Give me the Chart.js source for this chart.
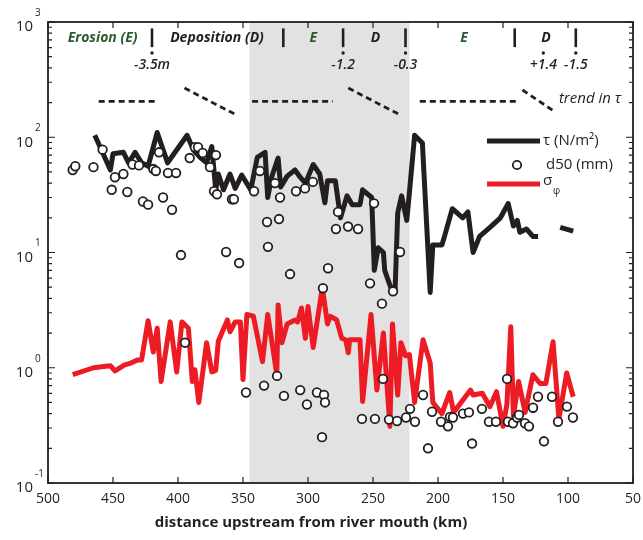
<!DOCTYPE html>
<html>
<head>
<meta charset="utf-8">
<script src="https://cdn.jsdelivr.net/npm/chart.js@4/dist/chart.umd.min.js"></script>
<style>
  html, body { margin: 0; padding: 0; background: #fff; }
  #wrap { width: 643px; height: 540px; }
</style>
</head>
<body>
<div id="wrap"><canvas id="chart"></canvas></div>
<script>
// tau (N/m2) along the river, km upstream of mouth
const tauKm  = [464, 452, 450, 442, 438, 433, 428, 423, 416, 408, 393, 388, 383, 378, 374, 371, 369, 365, 360, 356,
                351, 346, 344, 339, 333, 331, 328, 323, 321, 316, 310, 306, 302, 296, 291, 287, 285, 279, 275, 270,
                266, 260, 258, 251, 249, 246, 242, 241, 235, 233, 231, 228, 224, 222, 218, 212, 206, 204, 197, 195,
                189, 181, 177, 173, 168, 160, 152, 146, 142, 139, 137, 132, 127, 123, 115, 106, 96];
const tauVal = [104, 52, 72, 74, 60, 74, 60, 56, 110, 60, 104, 77, 67, 60, 83, 35, 48, 35, 48, 36,
                47, 38, 35, 67, 74, 30, 45, 66, 37, 46, 52, 45, 40, 58, 48, 27, 42, 42, 20, 31,
                26, 26, 35, 30, 7, 11, 10, 7, 4.5, 4.7, 22, 31, 19, 33, 104, 89, 4.5, 11.6, 11.6, 13.8,
                24, 20, 22.5, 10, 13.8, 16.5, 20, 26.6, 17, 19, 15, 16, 13.8, 13.8, null, 16.5, 15.3];

// d50 (mm) samples
const d50Km  = [481, 479, 465, 458, 451, 448.5, 442, 439, 435, 430, 427, 423, 419, 417, 414.6, 411.5, 407.7, 404.6, 401.5, 397.7,
                394.6, 391, 387, 384.6, 381, 375.4, 370.8, 372.3, 370, 363, 358.5, 357, 353, 347.7, 341.5, 337, 331.5, 330.8, 325.4, 322.3,
                321.5, 313.8, 309.2, 302.3, 296.2, 288.5, 284.6, 278.5, 276.9, 269.2, 261.5, 249.2, 252.3, 243.1, 234.6, 229.2, 333.8, 323.8, 318.5, 306,
                300.8, 293.1, 287.7, 286.9, 289.2, 258.5, 248.5, 242.3, 237.7, 231.5, 224.6, 221.5, 217.7, 211.5, 207.7, 204.6, 197.7, 192.3, 190.8, 188.5,
                180.8, 176.2, 173.8, 166.2, 160.8, 155.4, 146.9, 146.2, 142.3, 139.2, 137.7, 133.1, 130, 126.9, 123.1, 118.5, 112.3, 107.7, 100.8, 96.2];
const d50Val = [52, 56, 55, 78, 35, 45, 48, 33.5, 58, 57, 27.7, 26, 53, 51, 74, 30, 49, 23.5, 49, 9.5,
                1.65, 66, 82, 82, 73, 55, 70, 34, 32, 10.1, 29, 29, 8.1, 0.61, 34, 51, 18.4, 11.2, 40, 19.5,
                30, 6.5, 34, 36, 41, 4.9, 7.3, 16, 22.5, 16.8, 16, 26.7, 5.4, 3.6, 4.6, 10.1, 0.70, 0.85, 0.57, 0.64,
                0.48, 0.61, 0.58, 0.50, 0.25, 0.36, 0.36, 0.80, 0.355, 0.345, 0.37, 0.44, 0.34, 0.58, 0.20, 0.415, 0.34, 0.31, 0.375, 0.37,
                0.40, 0.41, 0.22, 0.44, 0.34, 0.34, 0.80, 0.34, 0.33, 0.37, 0.39, 0.33, 0.31, 0.45, 0.56, 0.23, 0.56, 0.34, 0.46, 0.37];

// sorting sigma_phi
const sigKm  = [481, 465, 452, 448.5, 441, 437, 431, 428, 423, 419, 416, 413, 406, 401, 397, 392, 389, 387, 384, 378,
                374, 371, 369, 362, 360, 356, 352, 350, 347, 342, 335, 331, 328, 324, 323, 320, 316, 310, 308, 305,
                302, 300, 296, 289, 285, 283, 278, 274, 271, 269, 268, 260, 258, 251.5, 247, 242, 237, 235, 231, 228.5,
                225, 222, 218, 211.5, 206, 204, 197, 191, 188, 175, 173, 166, 160, 155, 150, 147, 144, 142, 138, 133,
                127, 121.5, 117, 111.5, 107, 101, 96];
const sigVal = [0.87, 1.0, 1.04, 0.94, 1.06, 1.09, 1.17, 1.17, 2.56, 1.37, 2.2, 0.76, 2.5, 0.92, 2.5, 2.2, 0.76, 0.96, 0.5, 1.65,
                0.92, 0.95, 1.7, 2.6, 2.05, 2.5, 2.5, 0.79, 2.9, 2.8, 1.13, 2.9, 1.75, 0.87, 3.5, 1.65, 2.4, 2.6, 2.5, 3.3,
                1.8, 3.4, 1.5, 4.95, 2.4, 2.8, 2.6, 1.8, 1.75, 1.35, 1.75, 1.75, 0.51, 2.9, 0.64, 2.0, 0.31, 2.4, 0.58, 1.65,
                1.27, 1.3, 0.5, 1.75, 1.1, 0.5, 0.4, 0.61, 0.41, 0.64, 0.58, 0.6, 0.46, 0.62, 0.31, 0.48, 2.27, 0.38, 0.76, 0.41,
                0.87, 0.73, 0.73, 1.68, 0.36, 0.9, 0.56];

// dashed "trend in tau" sketch (null = break)
const trendKm  = [461, 416, 416, 395, 355, 355, 343, 281, 281, 269, 229, 229, 214, 139, 139, 135, 112];
const trendVal = [205, 205, null, 267, 156, null, 205, 205, null, 267, 156, null, 205, 205, null, 257, 172];

// axes
const xTicks   = [500, 450, 400, 350, 300, 250, 200, 150, 100, 50];
const yDecades = [0.1, 1, 10, 100, 1000];
const yExp     = ['-1', '0', '1', '2', '3'];

// shaded reach and zone annotations
const shadeKm    = [345, 222];
const zoneKm     = [458, 370, 296, 248, 180, 117];
const zoneText   = ['Erosion (E)', 'Deposition (D)', 'E', 'D', 'E', 'D'];
const boundaryKm = [420, 319, 273, 225, 141, 94];
const elevKm     = [420, 273, 225, 119, 94];
const elevText   = ['-3.5m', '-1.2', '-0.3', '+1.4', '-1.5'];

const FONT = '"Open Sans", "DejaVu Sans", sans-serif';
const RED = '#ed1c24';
const INK = '#231f20';
const GREEN = '#2b5a2f';

const pts = (xs, ys) => xs.map((x, i) => ({ x: x, y: ys[i] }));

// everything that is not a series: shade, frame, ticks, labels, notes, legend
const decor = {
  id: 'decor',
  beforeDatasetsDraw(chart) {
    const { ctx, chartArea: a, scales: { x } } = chart;
    const x1 = x.getPixelForValue(shadeKm[0]);
    const x2 = x.getPixelForValue(shadeKm[1]);
    ctx.save();
    ctx.fillStyle = '#e2e2e2';
    ctx.fillRect(x1, a.top, x2 - x1, a.bottom - a.top);
    ctx.restore();
  },
  afterDatasetsDraw(chart) {
    const { ctx, chartArea: a, scales: { x, y } } = chart;
    ctx.save();
    ctx.strokeStyle = INK;
    ctx.fillStyle = INK;

    // frame
    ctx.lineWidth = 1.8;
    ctx.strokeRect(a.left, a.top, a.right - a.left, a.bottom - a.top);

    // x ticks (inward, bottom and top) + labels
    ctx.lineWidth = 1.2;
    ctx.font = '14px ' + FONT;
    ctx.textAlign = 'center';
    ctx.textBaseline = 'middle';
    xTicks.forEach(v => {
      const px = x.getPixelForValue(v);
      ctx.beginPath();
      ctx.moveTo(px, a.bottom); ctx.lineTo(px, a.bottom - 6);
      ctx.moveTo(px, a.top); ctx.lineTo(px, a.top + 6);
      ctx.stroke();
      ctx.fillText(String(v), px, a.bottom + 16);
    });

    // y ticks (log, inward on both sides)
    yDecades.forEach((d, i) => {
      const py = y.getPixelForValue(d);
      ctx.beginPath();
      ctx.moveTo(a.left, py); ctx.lineTo(a.left + 7, py);
      ctx.moveTo(a.right, py); ctx.lineTo(a.right - 7, py);
      ctx.stroke();
      if (i < yDecades.length - 1) {
        for (let m = 2; m <= 9; m++) {
          const pm = y.getPixelForValue(d * m);
          ctx.beginPath();
          ctx.moveTo(a.left, pm); ctx.lineTo(a.left + 4, pm);
          ctx.moveTo(a.right, pm); ctx.lineTo(a.right - 4, pm);
          ctx.stroke();
        }
      }
      ctx.font = '15px ' + FONT;
      ctx.textAlign = 'right';
      ctx.fillText('10', a.left - 15, py + 5);
      ctx.font = '10px ' + FONT;
      ctx.textAlign = 'left';
      ctx.fillText(yExp[i], a.left - 13, py - 9);
    });

    // x title
    ctx.font = 'bold 15px ' + FONT;
    ctx.textAlign = 'center';
    ctx.fillText('distance upstream from river mouth (km)', 311, a.bottom + 40);

    // zone names
    ctx.font = 'italic bold 14px ' + FONT;
    zoneText.forEach((t, i) => {
      ctx.fillStyle = zoneText[i].startsWith('E') ? GREEN : INK;
      ctx.fillText(t, x.getPixelForValue(zoneKm[i]), y.getPixelForValue(726));
    });
    ctx.fillStyle = INK;

    // zone boundaries
    ctx.lineWidth = 2.6;
    boundaryKm.forEach(k => {
      const px = x.getPixelForValue(k);
      ctx.beginPath();
      ctx.moveTo(px, y.getPixelForValue(880));
      ctx.lineTo(px, y.getPixelForValue(605));
      ctx.stroke();
    });

    // bed elevation change marks
    ctx.font = 'italic 600 14px ' + FONT;
    elevKm.forEach((k, i) => {
      const px = x.getPixelForValue(k);
      ctx.beginPath();
      ctx.arc(px, y.getPixelForValue(538), 1.7, 0, Math.PI * 2);
      ctx.fill();
      ctx.fillText(elevText[i], px, y.getPixelForValue(424));
    });

    // trend label
    ctx.font = 'italic 15px ' + FONT;
    ctx.textAlign = 'left';
    ctx.fillText('trend in \u03c4', x.getPixelForValue(107), y.getPixelForValue(215));

    // legend
    ctx.lineWidth = 5;
    ctx.strokeStyle = INK;
    ctx.beginPath(); ctx.moveTo(487, 141); ctx.lineTo(540, 141); ctx.stroke();
    ctx.strokeStyle = RED;
    ctx.beginPath(); ctx.moveTo(487, 184); ctx.lineTo(540, 184); ctx.stroke();
    ctx.strokeStyle = INK;
    ctx.lineWidth = 1.8;
    ctx.fillStyle = '#fff';
    ctx.beginPath(); ctx.arc(517, 165, 4.2, 0, Math.PI * 2); ctx.fill(); ctx.stroke();
    ctx.fillStyle = INK;
    ctx.font = '15px ' + FONT;
    ctx.textBaseline = 'middle';
    ctx.fillText('\u03c4 (N/m\u00b2)', 543, 141);
    ctx.fillText('d50 (mm)', 546, 165);
    ctx.fillText('\u03c3', 543, 181);
    ctx.font = '10px ' + FONT;
    ctx.fillText('\u03c6', 553, 191);

    ctx.restore();
  }
};

new Chart(document.getElementById('chart'), {
  type: 'line',
  data: {
    datasets: [
      {
        label: 'd50 (mm)',
        data: pts(d50Km, d50Val),
        showLine: false,
        pointRadius: 4.3,
        pointBorderWidth: 1.8,
        pointBackgroundColor: '#fff',
        pointBorderColor: INK,
        order: 0
      },
      {
        label: '\u03c4 (N/m\u00b2)',
        data: pts(tauKm, tauVal),
        borderColor: INK,
        borderWidth: 5,
        pointRadius: 0,
        tension: 0,
        spanGaps: false,
        borderJoinStyle: 'round',
        order: 1
      },
      {
        label: '\u03c3\u03c6',
        data: pts(sigKm, sigVal),
        borderColor: RED,
        borderWidth: 5,
        pointRadius: 0,
        tension: 0,
        borderJoinStyle: 'round',
        order: 2
      },
      {
        label: 'trend',
        data: pts(trendKm, trendVal),
        borderColor: INK,
        borderWidth: 2.8,
        borderDash: [6, 4],
        pointRadius: 0,
        spanGaps: false,
        order: 3
      }
    ]
  },
  options: {
    responsive: true,
    maintainAspectRatio: false,
    animation: false,
    devicePixelRatio: 1,
    layout: { padding: { left: 48, right: 10, top: 22, bottom: 57 } },
    scales: {
      x: { type: 'linear', reverse: true, min: 50, max: 500, display: false },
      y: { type: 'logarithmic', min: 0.1, max: 1000, display: false }
    },
    plugins: {
      legend: { display: false },
      tooltip: { enabled: false }
    }
  },
  plugins: [decor]
});
</script>
</body>
</html>
